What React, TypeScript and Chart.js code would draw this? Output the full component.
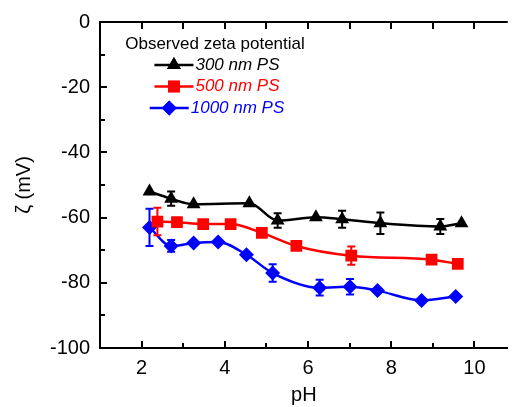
import React, { useEffect, useRef } from 'react';
import { Chart, registerables } from 'chart.js';
import { drawPoint } from 'chart.js/helpers';

Chart.register(...registerables);

// ---- data ----
const LEGEND_TITLE = 'Observed zeta potential';
const SERIES_LABELS = ['300 nm PS', '500 nm PS', '1000 nm PS'];
const SERIES_COLORS = ['#000000', '#ff0000', '#0000ff'];

const PH_300 = [2.19, 2.71, 3.25, 4.59, 5.27, 6.19, 6.82, 7.74, 9.18, 9.69];
const ZETA_300 = [-52.0, -54.2, -55.9, -55.6, -60.9, -59.9, -60.5, -61.7, -62.7, -61.7];
const ERR_300 = [0, 2.2, 0, 0, 2.2, 0, 2.6, 3.3, 2.3, 0];

const PH_500 = [2.38, 2.85, 3.48, 4.14, 4.89, 5.72, 7.04, 8.97, 9.6];
const ZETA_500 = [-61.2, -61.4, -62.0, -62.0, -64.7, -68.7, -71.7, -72.9, -74.2];
const ERR_500 = [4.2, 0, 0, 0, 0, 0, 2.8, 0, 0];

const PH_1000 = [2.19, 2.71, 3.25, 3.84, 4.52, 5.15, 6.28, 7.01, 7.67, 8.73, 9.55];
const ZETA_1000 = [-63.0, -68.7, -67.8, -67.5, -71.4, -77.0, -81.5, -81.2, -82.4, -85.4, -84.2];
const ERR_1000 = [5.7, 1.8, 0, 0, 0, 2.7, 2.4, 2.4, 0, 0, 0];

const X_TICKS = [2, 4, 6, 8, 10];
const X_MINOR = [3, 5, 7, 9];
const Y_TICKS = [-100, -80, -60, -40, -20, 0];
const Y_MINOR = [-90, -70, -50, -30, -10];

const X_MIN = 1;
const X_MAX = 10.8;
const Y_MIN = -100;
const Y_MAX = 0;

const FONT = "'Liberation Sans', Arial, sans-serif";

const pts = (xs: number[], ys: number[]) => xs.map((x, i) => ({ x, y: ys[i] }));

const ERRORS = [ERR_300, ERR_500, ERR_1000];

const framePlugin = {
  id: 'frame',
  afterDatasetsDraw(chart: any) {
    const { ctx, chartArea, scales } = chart;
    const xs = scales.x;
    const ys = scales.y;
    ctx.save();
    // error bars
    chart.data.datasets.forEach((ds: any, di: number) => {
      const errs = ERRORS[di];
      ctx.strokeStyle = ds.borderColor;
      ctx.lineWidth = 2;
      ds.data.forEach((p: any, i: number) => {
        const e = errs[i];
        if (!e) return;
        const px = xs.getPixelForValue(p.x);
        const y1 = ys.getPixelForValue(p.y + e);
        const y2 = ys.getPixelForValue(p.y - e);
        ctx.beginPath();
        ctx.moveTo(px, y1);
        ctx.lineTo(px, y2);
        ctx.moveTo(px - 4, y1);
        ctx.lineTo(px + 4, y1);
        ctx.moveTo(px - 4, y2);
        ctx.lineTo(px + 4, y2);
        ctx.stroke();
      });
    });
    // frame
    ctx.strokeStyle = '#000';
    ctx.lineWidth = 2;
    ctx.beginPath();
    ctx.moveTo(chartArea.left - 1, chartArea.top);
    ctx.lineTo(chartArea.right, chartArea.top);
    ctx.stroke();
    ctx.lineWidth = 2;
    ctx.beginPath();
    X_TICKS.forEach((v) => {
      const px = Math.round(xs.getPixelForValue(v));
      ctx.moveTo(px, chartArea.bottom);
      ctx.lineTo(px, chartArea.bottom - 7);
      ctx.moveTo(px, chartArea.top);
      ctx.lineTo(px, chartArea.top + 7);
    });
    X_MINOR.forEach((v) => {
      const px = Math.round(xs.getPixelForValue(v));
      ctx.moveTo(px, chartArea.bottom);
      ctx.lineTo(px, chartArea.bottom - 5);
      ctx.moveTo(px, chartArea.top);
      ctx.lineTo(px, chartArea.top + 7);
    });
    Y_TICKS.forEach((v) => {
      const py = Math.round(ys.getPixelForValue(v));
      ctx.moveTo(chartArea.left, py);
      ctx.lineTo(chartArea.left + 7, py);
    });
    Y_MINOR.forEach((v) => {
      const py = Math.round(ys.getPixelForValue(v));
      ctx.moveTo(chartArea.left, py);
      ctx.lineTo(chartArea.left + 5, py);
    });
    ctx.stroke();

    // legend
    const cx = 215;
    ctx.fillStyle = '#000';
    ctx.font = `17px ${FONT}`;
    ctx.textBaseline = 'middle';
    ctx.textAlign = 'center';
    ctx.fillText(LEGEND_TITLE, cx, 44);
    const rowY = [65, 86.5, 108];
    chart.data.datasets.forEach((ds: any, di: number) => {
      ctx.font = `italic 17px ${FONT}`;
      const tw = ctx.measureText(ds.label).width;
      const lineLen = 39;
      const total = lineLen + 2 + tw;
      const x0 = cx - total / 2 + 2;
      const y = rowY[di];
      ctx.strokeStyle = ds.borderColor;
      ctx.lineWidth = 2.5;
      ctx.beginPath();
      ctx.moveTo(x0, y);
      ctx.lineTo(x0 + lineLen, y);
      ctx.stroke();
      ctx.fillStyle = ds.borderColor;
      drawPoint(ctx, { pointStyle: ds.pointStyle, radius: ds.pointRadius, rotation: 0, borderWidth: 0 } as any, x0 + lineLen / 2, y);
      ctx.fill();
      ctx.textAlign = 'left';
      ctx.fillText(ds.label, x0 + lineLen + 2, y);
    });
    ctx.restore();
  },
};

export default function App() {
  const ref = useRef<HTMLCanvasElement>(null);
  useEffect(() => {
    if (!ref.current) return;
    const mk = (i: number, xs: number[], ys: number[], style: string, r: number) => ({
      label: SERIES_LABELS[i],
      data: pts(xs, ys),
      borderColor: SERIES_COLORS[i],
      backgroundColor: SERIES_COLORS[i],
      pointBackgroundColor: SERIES_COLORS[i],
      pointBorderColor: SERIES_COLORS[i],
      pointBorderWidth: 0,
      pointStyle: style,
      pointRadius: r,
      borderWidth: 2.5,
      cubicInterpolationMode: 'monotone' as const,
      showLine: true,
      fill: false,
    });
    const chart = new Chart(ref.current, {
      type: 'line',
      data: {
        datasets: [
          mk(0, PH_300, ZETA_300, 'triangle', 8),
          mk(1, PH_500, ZETA_500, 'rect', 8.3),
          mk(2, PH_1000, ZETA_1000, 'rectRot', 7.5),
        ] as any,
      },
      options: {
        responsive: false,
        animation: false,
        devicePixelRatio: 1,
        layout: { padding: { top: 19, right: 0, left: 0, bottom: 0 } },
        plugins: { legend: { display: false }, tooltip: { enabled: false } },
        scales: {
          x: {
            type: 'linear',
            min: X_MIN,
            max: X_MAX,
            grid: { display: false, drawTicks: false },
            border: { display: true, color: '#000', width: 2 },
            afterBuildTicks: (s: any) => {
              s.ticks = X_TICKS.map((value) => ({ value }));
            },
            afterFit: (s: any) => {
              s.height = 59;
            },
            ticks: {
              padding: 8,
              color: '#000',
              font: { family: FONT, size: 20 },
              maxRotation: 0,
              autoSkip: false,
            },
            title: {
              display: true,
              text: 'pH',
              color: '#000',
              font: { family: FONT, size: 20 },
              padding: { top: 0, bottom: 0 },
            },
          },
          y: {
            type: 'linear',
            min: Y_MIN,
            max: Y_MAX,
            grid: { display: false, drawTicks: false },
            border: { display: true, color: '#000', width: 2 },
            afterBuildTicks: (s: any) => {
              s.ticks = Y_TICKS.map((value) => ({ value }));
            },
            afterFit: (s: any) => {
              s.width = 100;
            },
            ticks: {
              padding: 10,
              color: '#000',
              font: { family: FONT, size: 20 },
              autoSkip: false,
            },
            title: {
              display: true,
              text: 'ζ (mV)',
              color: '#000',
              font: { family: FONT, size: 20 },
              padding: { top: 12, bottom: 0 },
            },
          },
        },
      },
      plugins: [framePlugin],
    });
    return () => chart.destroy();
  }, []);
  return (
    <div style={{ position: 'absolute', left: 0, top: 0, width: 516, height: 407, background: '#fff' }}>
      <canvas ref={ref} width={516} height={407} />
    </div>
  );
}
